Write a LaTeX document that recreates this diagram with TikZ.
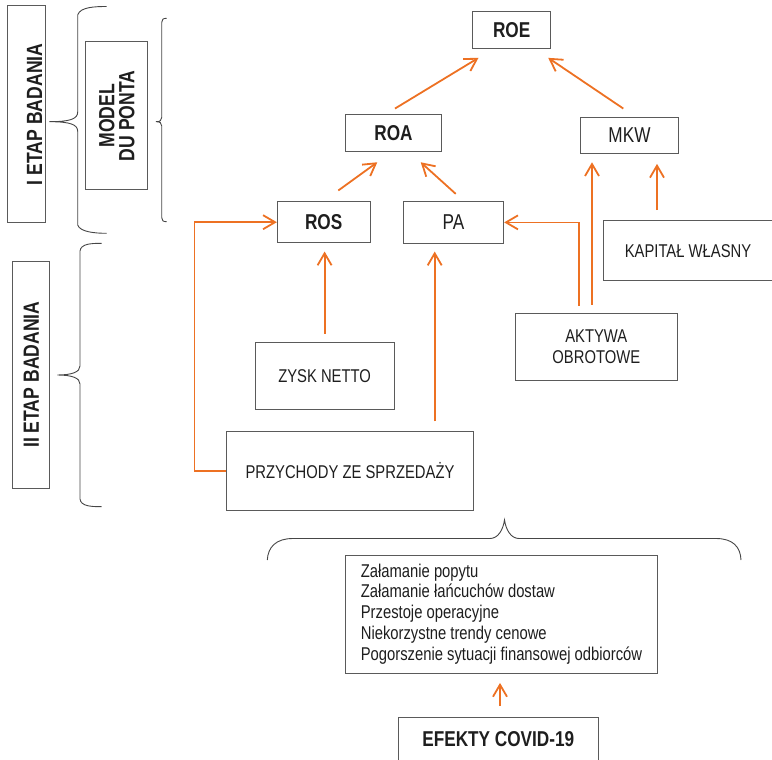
\documentclass[tikz,border=0pt]{standalone}
\usepackage{fontspec}
\setmainfont[FakeStretch=0.8]{Liberation Sans}
\usetikzlibrary{arrows.meta}
\definecolor{arrorange}{RGB}{237,113,35}
\definecolor{boxgray}{RGB}{90,90,90}
\definecolor{textgray}{RGB}{30,30,30}
\definecolor{bracegray}{RGB}{70,70,70}
\begin{document}
\begin{tikzpicture}[x=1pt, y=-1pt,
    box/.style={draw=boxgray, line width=1pt, inner sep=0pt, align=center, text=textgray,
                font=\fontsize{18.5}{21}\selectfont},
    topbox/.style={box, font=\fontsize{21.5}{24}\selectfont},
    topboldbox/.style={box, font=\fontsize{21.5}{24}\selectfont\bfseries},
    sidebox/.style={box, rotate=90, font=\fontsize{22}{20}\selectfont\bfseries},
    arr/.style={draw=arrorange, line width=1.8pt, -{Straight Barb[length=12pt,width=14pt]}},
    brace/.style={draw=bracegray, line width=0.9pt}]
    \useasboundingbox (0,0) rectangle (772,760);

    % stages on the left
    \node[sidebox, minimum width=216.7pt, minimum height=37.7pt, text height=31.7pt, text depth=0pt, inner ysep=3pt]
        (etapone) at (26.2,114.3) {I ETAP BADANIA};
    \node[sidebox, minimum width=148.3pt, minimum height=61.7pt] (dupont) at (116.8,115.8) {MODEL\\DU PONTA};
    \node[sidebox, minimum width=227.3pt, minimum height=37.3pt] (etaptwo) at (31.3,374.7) {II ETAP BADANIA};

    % braces
    \draw[brace] (106.7,6.5) .. controls (95,6.5) and (80,7) .. (77.7,15) -- (77.7,112)
        .. controls (77.7,119) and (70,121.7) .. (49.3,121.7)
        .. controls (70,121.7) and (77.7,124.4) .. (77.7,131.4) -- (77.7,225)
        .. controls (80,232) and (95,233.3) .. (106.7,233.3);
    \draw[brace] (166.7,18.3) .. controls (163,18.3) and (161.7,19.5) .. (161.7,22.5) -- (161.7,117.5)
        .. controls (161.7,120.5) and (160,121.7) .. (156,121.7)
        .. controls (160,121.7) and (161.7,122.9) .. (161.7,125.9) -- (161.7,217.5)
        .. controls (161.7,220.5) and (163,221.7) .. (166.7,221.7);
    \draw[brace] (101.7,243.3) .. controls (90,243.3) and (81,244) .. (80,251) -- (80,366)
        .. controls (80,372) and (72,375) .. (57.3,375)
        .. controls (72,375) and (80,378) .. (80,384) -- (80,499)
        .. controls (81,506) and (90,506.7) .. (101.7,506.7);
    \draw[brace] (267.3,560) .. controls (268,547) and (276,538.5) .. (293,538.5) -- (490,538.5)
        .. controls (498,538.5) and (503,530) .. (504.5,520)
        .. controls (506,530) and (511,538.5) .. (519,538.5) -- (716,538.5)
        .. controls (733,538.5) and (740.5,547) .. (741,560);

    % du Pont pyramid
    \node[topboldbox, minimum width=78pt, minimum height=37.7pt] (roe) at (511.7,29.9) {ROE};
    \node[topboldbox, minimum width=95.6pt, minimum height=36.7pt] (roa) at (393.5,132.7) {ROA};
    \node[topbox, minimum width=97.6pt, minimum height=35.7pt] (mkw) at (629.5,135.2) {MKW};
    \node[topboldbox, minimum width=92.7pt, minimum height=41pt] (ros) at (323.7,222.2) {ROS};
    \node[topbox, minimum width=100.4pt, minimum height=42.7pt] (pa) at (453.5,222.4) {PA};

    % source data
    \node[box, minimum width=170pt, minimum height=60pt] (kapital) at (688,250.7) {KAPITAŁ WŁASNY};
    \node[box, minimum width=139pt, minimum height=66.3pt] (zysk) at (324.6,375.9) {ZYSK NETTO};
    \node[box, minimum width=161.5pt, minimum height=66.7pt] (aktywa) at (596.3,346.7) {AKTYWA\\OBROTOWE};
    \node[box, minimum width=246.6pt, minimum height=78.7pt] (przychody) at (350,470.7) {PRZYCHODY ZE SPRZEDAŻY};

    % COVID-19 effects
    \node[box, inner xsep=13.6pt, minimum width=311.6pt, minimum height=118pt, align=left,
          font=\fontsize{18.5}{20.8}\selectfont] (efekty) at (501.5,614)
        {Załamanie popytu\\Załamanie łańcuchów dostaw\\Przestoje operacyjne\\Niekorzystne trendy cenowe\\Pogorszenie sytuacji finansowej odbiorców};
    \node[topboldbox, minimum width=200pt, minimum height=44pt] (covid) at (498.3,739.3) {EFEKTY COVID-19};

    % arrows
    \draw[arr] ([shift={(1.5,-5.3)}]roa.north) -- ([shift={(6.3,8.6)}]roe.south west);
    \draw[arr] ([shift={(-6.2,-8.3)}]mkw.north) -- ([shift={(-3,8.6)}]roe.south east);
    \draw[arr] ([shift={(14.6,-10.7)}]ros.north) -- ([shift={(-16.2,10.7)}]roa.south);
    \draw[arr] ([shift={(2.2,-6.7)}]pa.north) -- ([shift={(27.2,10.7)}]roa.south);
    \draw[arr, shorten <=8.4pt, shorten >=8.3pt] (zysk.north) -- (zysk.north |- ros.south);
    \draw[arr, shorten <=9.6pt, shorten >=7.3pt] ([xshift=-18.8pt]pa.south |- przychody.north) -- ([xshift=-18.8pt]pa.south);
    \draw[arr] (przychody.west) -- ++(-31.7,0) |- (ros.west);
    \draw[arr] ([shift={(-17.1,-7.3)}]aktywa.north) |- (pa.east);
    \draw[arr, shorten <=8.3pt, shorten >=8.7pt] ([xshift=-4.3pt]aktywa.north) -- ([xshift=-4.3pt]aktywa.north |- mkw.south);
    \draw[arr, shorten <=10pt, shorten >=10.3pt] ([xshift=-31pt]kapital.north) -- ([xshift=-31pt]kapital.north |- mkw.south);
    \draw[arr, shorten <=10.6pt, shorten >=9.4pt] ([xshift=1.7pt]covid.north) -- ([xshift=1.7pt]covid.north |- efekty.south);
\end{tikzpicture}
\end{document}
